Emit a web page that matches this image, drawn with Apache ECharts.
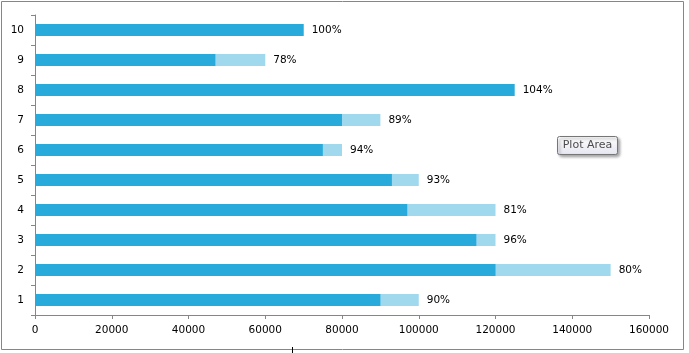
<!DOCTYPE html>
<html>
<head>
<meta charset="utf-8">
<script src="https://cdn.jsdelivr.net/npm/echarts@6/dist/echarts.min.js"></script>
<style>
  html, body { margin: 0; padding: 0; background: #fff; }
  #chart { width: 689px; height: 353px; }
</style>
</head>
<body>
<div id="chart"></div>
<script>
const categories = ["1", "2", "3", "4", "5", "6", "7", "8", "9", "10"];
const actual = [90000, 120000, 115000, 97000, 93000, 75000, 80000, 125000, 47000, 70000];
const target = [100000, 150000, 120000, 120000, 100000, 80000, 90000, 120000, 60000, 70000];
const percentLabels = ["90%", "80%", "96%", "81%", "93%", "94%", "89%", "104%", "78%", "100%"];

const labelStyle = {
  position: "right",
  distance: 8,
  color: "#000",
  fontFamily: "DejaVu Sans",
  fontSize: 10.5
};

// label goes on whichever bar reaches further
const targetData = target.map((v, i) => ({
  value: v,
  label: { show: v > actual[i], formatter: percentLabels[i] }
}));
const actualData = actual.map((v, i) => ({
  value: v,
  label: { show: v >= target[i], formatter: percentLabels[i] }
}));

const chart = echarts.init(document.getElementById("chart"));
chart.setOption({
  animation: false,
  grid: { left: 35, right: 40, top: 15, bottom: 38 },
  xAxis: {
    type: "value",
    min: 0,
    max: 160000,
    interval: 20000,
    splitLine: { show: false },
    axisLine: { show: true, lineStyle: { color: "#868686" } },
    axisTick: { show: true, length: 4, lineStyle: { color: "#868686" } },
    axisLabel: {
      color: "#000",
      fontFamily: "DejaVu Sans",
      fontSize: 10.5,
      margin: 10,
      formatter: (v) => String(v)
    }
  },
  yAxis: {
    type: "category",
    data: categories,
    axisLine: { show: true, lineStyle: { color: "#868686" } },
    axisTick: { show: true, length: 4, lineStyle: { color: "#868686" } },
    axisLabel: { color: "#000", fontFamily: "DejaVu Sans", fontSize: 10.5, margin: 11 }
  },
  series: [
    {
      name: "Target",
      type: "bar",
      data: targetData,
      barWidth: "40%",
      itemStyle: { color: "#A0D8EE" },
      label: labelStyle
    },
    {
      name: "Actual",
      type: "bar",
      data: actualData,
      barWidth: "40%",
      barGap: "-100%",
      itemStyle: { color: "#28AADB" },
      label: labelStyle
    }
  ],
  graphic: [
    {
      type: "rect",
      shape: { x: 1.5, y: 1.5, width: 682, height: 348 },
      style: { fill: "none", stroke: "#868686", lineWidth: 1 },
      silent: true
    },
    {
      type: "line",
      shape: { x1: 292.5, y1: 347, x2: 292.5, y2: 353 },
      style: { stroke: "#000", lineWidth: 1 }
    },
    {
      type: "group",
      left: 557,
      top: 136,
      children: [
        {
          type: "rect",
          shape: { x: 0, y: 0, width: 60, height: 18, r: 2 },
          style: {
            fill: new echarts.graphic.LinearGradient(0, 0, 0, 1, [
              { offset: 0, color: "#ffffff" },
              { offset: 1, color: "#e4e5f0" }
            ]),
            stroke: "#767676",
            lineWidth: 1,
            shadowBlur: 3,
            shadowOffsetX: 2,
            shadowOffsetY: 2,
            shadowColor: "rgba(0,0,0,0.35)"
          }
        },
        {
          type: "text",
          x: 30,
          y: 9,
          style: {
            text: "Plot Area",
            fill: "#4c4c4c",
            font: "11px 'DejaVu Sans'",
            align: "center",
            verticalAlign: "middle"
          }
        }
      ]
    }
  ]
});
</script>
</body>
</html>
